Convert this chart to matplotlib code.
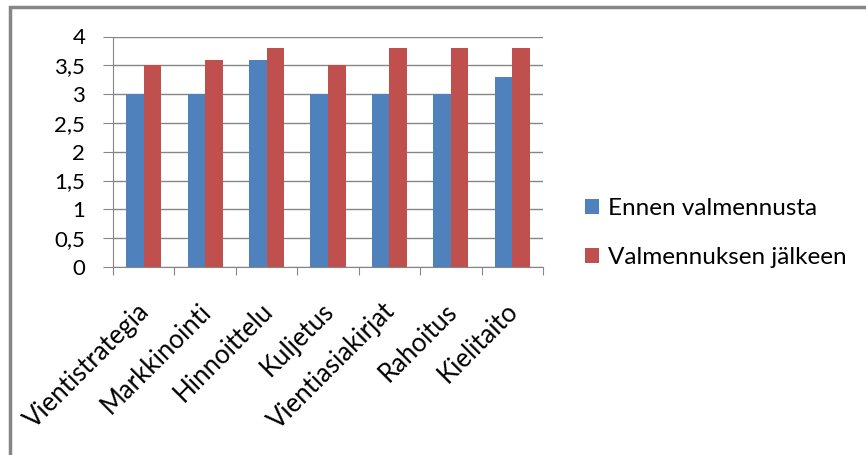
import numpy as np
import matplotlib.pyplot as plt
import matplotlib.transforms as mtransforms
from matplotlib.patches import Rectangle

categories = ['Vientistrategia', 'Markkinointi', 'Hinnoittelu', 'Kuljetus',
              'Vientiasiakirjat', 'Rahoitus', 'Kielitaito']
ennen = [3, 3, 3.6, 3, 3, 3, 3.3]
jalkeen = [3.5, 3.6, 3.8, 3.5, 3.8, 3.8, 3.8]
series_names = ['Ennen valmennusta', 'Valmennuksen jälkeen']
y_ticks = [0, 0.5, 1, 1.5, 2, 2.5, 3, 3.5, 4]
y_tick_labels = ['0', '0,5', '1', '1,5', '2', '2,5', '3', '3,5', '4']

plt.rcParams['font.family'] = ['Lato', 'DejaVu Sans']
fs = 16

W, H = 866, 455
fig = plt.figure(figsize=(W / 100, H / 100), dpi=100)
ax = fig.add_axes([113 / W, 1 - 267 / H, (543 - 113) / W, (267 - 36.5) / H])

x = np.arange(len(categories))
bw = 1 / 3.5
blue = '#4F81BD'
red = '#C0504D'
ax.bar(x - bw / 2, ennen, bw, color=blue, label=series_names[0], zorder=3)
ax.bar(x + bw / 2, jalkeen, bw, color=red, label=series_names[1], zorder=3)

ax.set_xlim(-0.5, len(categories) - 0.5)
ax.set_ylim(0, 4)
ax.set_yticks(y_ticks)
ax.set_yticklabels(y_tick_labels)
ax.yaxis.grid(True, color='#868686', linewidth=1)
ax.set_axisbelow(True)

ax.set_xticks(np.arange(len(categories) + 1) - 0.5)
ax.set_xticklabels([])
ax.set_xticks(x, minor=True)
ax.set_xticklabels(categories, minor=True, rotation=45, ha='right', va='center',
                   rotation_mode='anchor', fontsize=fs + 2.5)
ax.tick_params(axis='x', which='minor', length=0, pad=14)
ax.tick_params(axis='x', which='major', length=6, color='#868686', direction='out')
ax.tick_params(axis='y', length=7, color='#868686', labelsize=fs, pad=13)

# nudge the rotated labels down like the original
shift = mtransforms.ScaledTranslation(0.02, -0.21, fig.dpi_scale_trans)
for lbl in ax.get_xticklabels(minor=True):
    lbl.set_transform(lbl.get_transform() + shift)

for s in ['top', 'right']:
    ax.spines[s].set_visible(False)
for s in ['left', 'bottom']:
    ax.spines[s].set_color('#868686')

ax.legend(loc='center left', bbox_to_anchor=(563 / W, 1 - 233 / H),
          bbox_transform=fig.transFigure, frameon=False, fontsize=fs + 1.5,
          handlelength=0.6, handleheight=0.6, handletextpad=0.35,
          labelspacing=1.15)

fig.patches.append(Rectangle((10 / W, -0.05), 1.0, 1 - 7 / H + 0.05,
                             transform=fig.transFigure, fill=False,
                             edgecolor='#868686', linewidth=2.5))

fig.savefig('out.png', dpi=100)
